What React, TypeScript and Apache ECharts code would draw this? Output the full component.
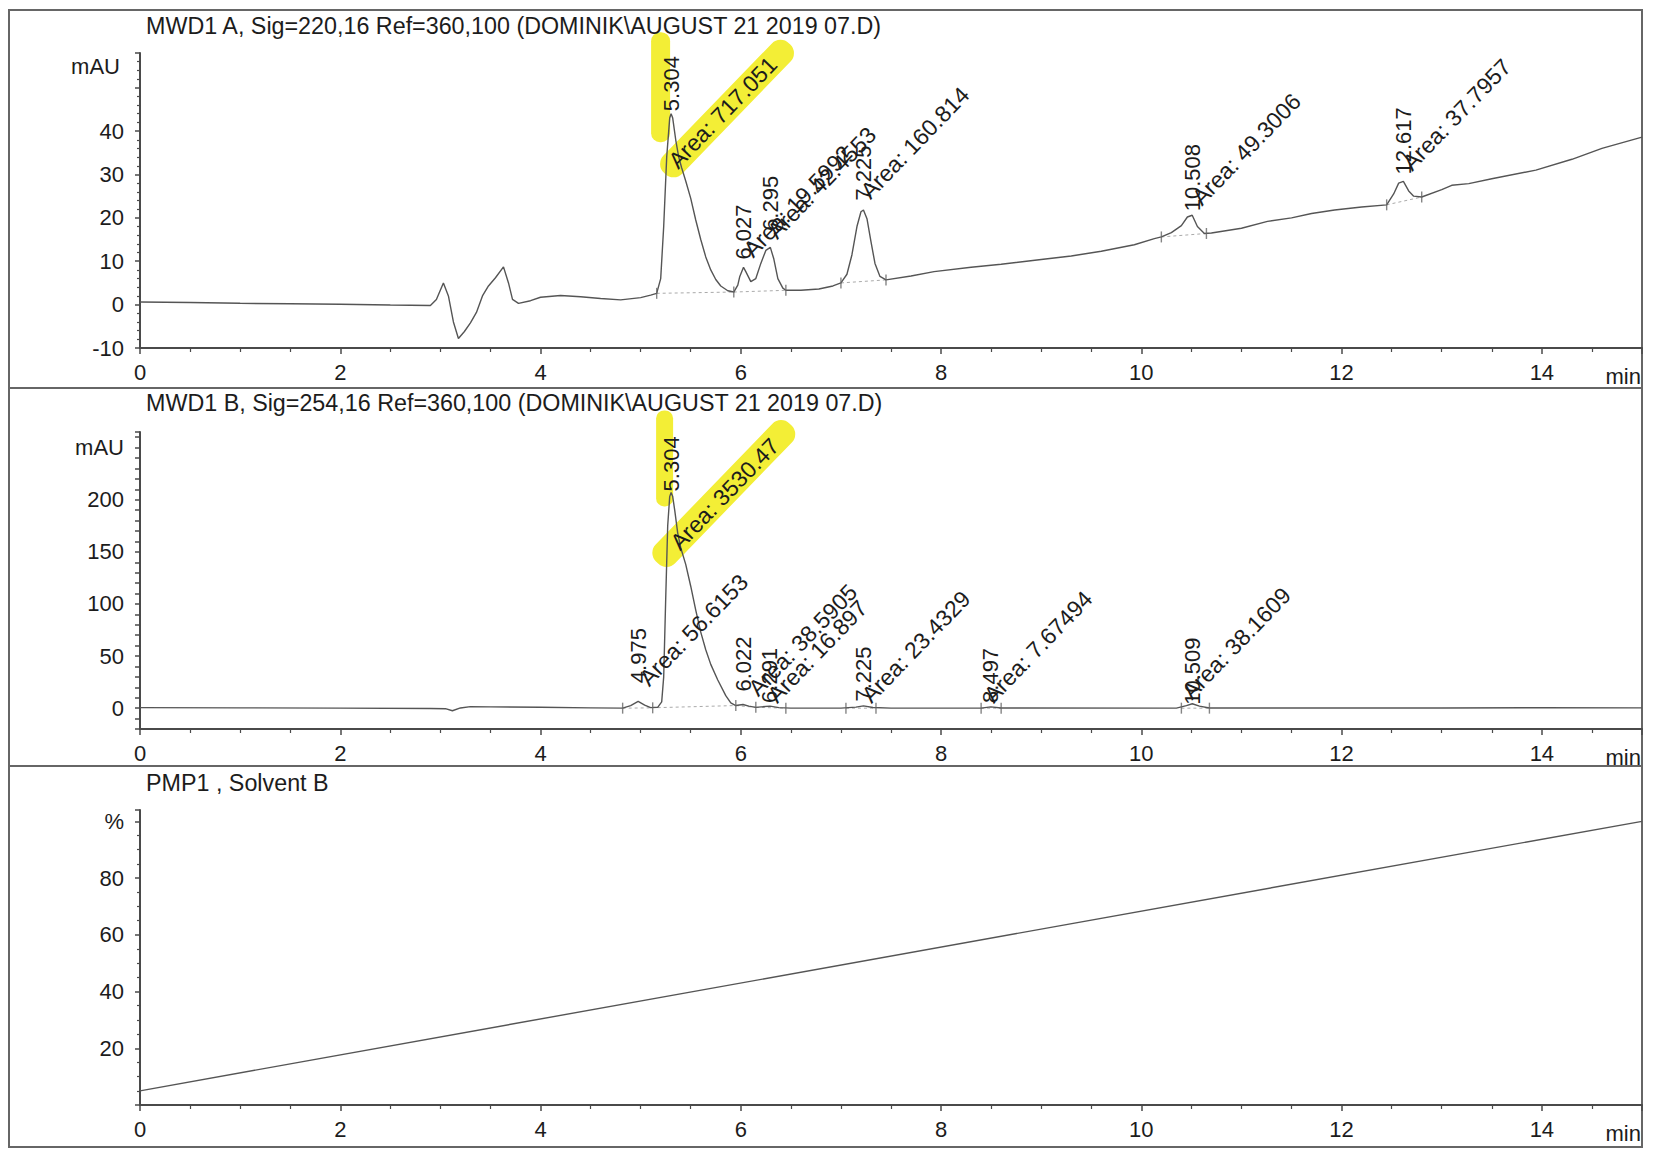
import React, { useEffect, useRef } from "react";
import * as echarts from "echarts";

// ---------- data ----------
const TIME_TICKS = [0, 2, 4, 6, 8, 10, 12, 14];

const TITLE_A = "MWD1 A, Sig=220,16 Ref=360,100 (DOMINIK\\AUGUST 21 2019 07.D)";
const TITLE_B = "MWD1 B, Sig=254,16 Ref=360,100 (DOMINIK\\AUGUST 21 2019 07.D)";
const TITLE_C = "PMP1 , Solvent B";

// Signal A (220 nm), [min, mAU]
const sigA: [number, number][] = [
  [0, 0.6], [0.5, 0.5], [1, 0.3], [1.5, 0.2], [2, 0.1], [2.5, -0.1], [2.9, -0.2],
  [2.96, 1.2], [3.03, 5.0], [3.08, 2.0], [3.13, -4.0], [3.18, -7.8], [3.24, -6.2],
  [3.3, -4.2], [3.36, -1.8], [3.42, 2.0], [3.48, 4.3], [3.55, 6.2], [3.63, 8.7],
  [3.68, 5.0], [3.72, 1.2], [3.78, 0.3], [3.9, 0.9], [4.0, 1.7], [4.2, 2.1],
  [4.4, 1.8], [4.6, 1.4], [4.8, 1.1], [5.0, 1.6], [5.1, 2.2], [5.16, 2.6],
  [5.2, 6], [5.23, 18], [5.26, 34], [5.29, 43], [5.304, 44], [5.32, 43],
  [5.35, 38], [5.38, 34], [5.41, 31.5], [5.45, 28.5], [5.5, 24.5], [5.55, 19.5],
  [5.6, 15], [5.65, 11], [5.7, 8], [5.75, 5.8], [5.8, 4.3], [5.87, 3.2],
  [5.93, 2.9], [5.97, 4.5], [5.99, 6.5], [6.027, 8.6], [6.05, 7.6], [6.1, 5.3],
  [6.15, 6.0], [6.2, 9.5], [6.25, 12.5], [6.295, 13.2], [6.33, 10.5], [6.37, 6.0],
  [6.42, 3.8], [6.45, 3.3], [6.6, 3.3], [6.78, 3.6], [6.92, 4.3], [7.0, 5.0],
  [7.06, 7.0], [7.11, 11.5], [7.16, 18.0], [7.2, 21.4], [7.225, 21.8], [7.26, 19.8],
  [7.3, 14.5], [7.34, 9.5], [7.39, 6.5], [7.45, 5.7], [7.7, 6.6], [7.93, 7.6],
  [8.3, 8.6], [8.6, 9.3], [9.0, 10.4], [9.3, 11.2], [9.6, 12.3], [9.93, 13.8],
  [10.13, 15.2], [10.2, 15.6], [10.3, 16.6], [10.4, 18.2], [10.46, 20.2],
  [10.508, 20.6], [10.56, 18.0], [10.63, 16.4], [10.7, 16.5], [11.0, 17.6],
  [11.26, 19.2], [11.5, 20.0], [11.7, 21.0], [11.93, 21.8], [12.2, 22.5],
  [12.45, 23.0], [12.52, 25.5], [12.57, 28.0], [12.617, 28.4], [12.67, 26.2],
  [12.72, 25.0], [12.8, 24.8], [13.0, 26.5], [13.1, 27.5], [13.27, 27.9],
  [13.5, 29.0], [13.94, 31.0], [14.3, 33.5], [14.6, 36.0], [15, 38.6],
];

// Signal B (254 nm), [min, mAU]
const sigB: [number, number][] = [
  [0, 0.5], [1, 0.3], [2, 0.0], [2.9, -0.3], [3.05, -0.5], [3.12, -2.5], [3.2, 0.2],
  [3.3, 1.5], [3.5, 1.2], [4.0, 0.8], [4.5, 0.3], [4.82, 0.0], [4.9, 2.5],
  [4.975, 6.5], [5.04, 3.0], [5.1, 0.5], [5.17, 0.8], [5.21, 6], [5.23, 30],
  [5.25, 105], [5.27, 175], [5.29, 203], [5.304, 207], [5.32, 203], [5.34, 190],
  [5.37, 168], [5.4, 154], [5.45, 138], [5.5, 117], [5.55, 94], [5.6, 73],
  [5.65, 56], [5.7, 42], [5.77, 27], [5.85, 12], [5.9, 5], [5.95, 2.5],
  [6.022, 3.5], [6.08, 2.0], [6.15, 0.8], [6.291, 2.0], [6.38, 0.5], [6.5, 0],
  [7.0, 0], [7.15, 1.0], [7.225, 2.2], [7.32, 0.6], [7.5, 0], [8.4, 0],
  [8.497, 1.2], [8.6, 0.1], [10.35, 0], [10.45, 2.5], [10.509, 4.2], [10.58, 2.0],
  [10.68, 0.2], [11.5, 0.1], [12, 0.3], [13, 0.2], [14, 0.5], [15, 0.3],
];

// Solvent B gradient, [min, %]
const solventB: [number, number][] = [[0, 5], [15, 100]];

// integration baselines
const baseSegA: [number, number][][] = [
  [[5.16, 2.6], [5.93, 2.9]], [[5.93, 2.9], [6.45, 3.3]], [[7.0, 5.0], [7.45, 5.7]],
  [[10.2, 15.6], [10.65, 16.4]], [[12.45, 23.0], [12.8, 24.8]],
];
const marksA: [number, number][] = [
  [5.16, 2.6], [5.93, 2.9], [6.45, 3.3], [7.0, 5.0], [7.45, 5.7],
  [10.2, 15.6], [10.65, 16.4], [12.45, 23.0], [12.8, 24.8],
];
const baseSegB: [number, number][][] = [
  [[4.82, 0], [5.12, 0.3]], [[5.17, 0.5], [5.95, 2.5]], [[5.95, 2.5], [6.15, 0.8]],
  [[6.15, 0.8], [6.45, 0]], [[7.05, 0], [7.35, 0]], [[8.4, 0], [8.6, 0]], [[10.4, 0], [10.68, 0]],
];
const marksB: [number, number][] = [
  [4.82, 0], [5.12, 0.3], [5.95, 2.5], [6.15, 0.8], [6.45, 0], [7.05, 0], [7.35, 0],
  [8.4, 0], [8.6, 0], [10.4, 0], [10.68, 0],
];

// peak annotations: retention label anchor (rt, rv), area label anchor (at, av)
type Peak = { rt: string; t: number; rv: number; area: string; at: number; av: number };
const peaksA: Peak[] = [
  { rt: "5.304", t: 5.304, rv: 44.6, area: "Area: 717.051", at: 5.4, av: 30.5 },
  { rt: "6.027", t: 6.027, rv: 10.4, area: "Area: 19.5992", at: 6.15, av: 10 },
  { rt: "6.295", t: 6.295, rv: 17, area: "Area: 42.4553", at: 6.39, av: 14.3 },
  { rt: "7.225", t: 7.225, rv: 24, area: "Area: 160.814", at: 7.32, av: 23.5 },
  { rt: "10.508", t: 10.508, rv: 21.5, area: "Area: 49.3006", at: 10.63, av: 22 },
  { rt: "12.617", t: 12.617, rv: 30, area: "Area: 37.7957", at: 12.73, av: 30 },
];
const peaksB: Peak[] = [
  { rt: "4.975", t: 4.975, rv: 24, area: "Area: 56.6153", at: 5.11, av: 17.6 },
  { rt: "5.304", t: 5.304, rv: 208, area: "Area: 3530.47", at: 5.42, av: 148 },
  { rt: "6.022", t: 6.022, rv: 16, area: "Area: 38.5905", at: 6.2, av: 8 },
  { rt: "6.291", t: 6.291, rv: 5, area: "Area: 16.897", at: 6.39, av: 1.5 },
  { rt: "7.225", t: 7.225, rv: 6.3, area: "Area: 23.4329", at: 7.33, av: 1.5 },
  { rt: "8.497", t: 8.497, rv: 5, area: "Area: 7.67494", at: 8.55, av: 1.5 },
  { rt: "10.509", t: 10.509, rv: 3.2, area: "Area: 38.1609", at: 10.53, av: 4.8 },
];

// ---------- styling ----------
const FONT = "'Liberation Sans', Arial, sans-serif";
const INK = "#1c1c1c";
const AXIS = "#4a4a4a";
const TRACE = "#555555";
const HILITE = "#f3ee36";
const AREA_ROT = (46 * Math.PI) / 180;

const grids = [
  { left: 140, right: 11, top: 53, height: 295 },
  { left: 140, right: 11, top: 432, height: 297 },
  { left: 140, right: 11, top: 810, height: 295 },
];

function xAxis(i: number) {
  return {
    type: "value",
    gridIndex: i,
    min: 0,
    max: 15,
    interval: 2,
    axisLine: { show: true, onZero: false, lineStyle: { color: AXIS, width: 2 } },
    axisTick: { show: true, length: 6, lineStyle: { color: AXIS, width: 1.5 } },
    minorTick: { show: true, splitNumber: 4, length: 4, lineStyle: { color: AXIS, width: 1.2 } },
    splitLine: { show: false },
    axisLabel: {
      fontSize: 22,
      color: INK,
      fontFamily: FONT,
      margin: 13,
      formatter: (v: number) => (TIME_TICKS.includes(v) ? String(v) : ""),
    },
  };
}

function yAxis(i: number, min: number, max: number, interval: number, minorSplit: number, fmt: (v: number) => string) {
  return {
    type: "value",
    gridIndex: i,
    min,
    max,
    interval,
    axisLine: { show: true, onZero: false, lineStyle: { color: AXIS, width: 2 } },
    axisTick: { show: true, length: 5, lineStyle: { color: AXIS, width: 1.5 } },
    minorTick: { show: minorSplit > 0, splitNumber: minorSplit || 5, length: 3, lineStyle: { color: AXIS, width: 1.2 } },
    splitLine: { show: false },
    axisLabel: { fontSize: 22, color: INK, fontFamily: FONT, margin: 16, formatter: fmt },
  };
}

export default function App() {
  const ref = useRef<HTMLDivElement>(null);

  useEffect(() => {
    if (!ref.current) return;
    const chart = echarts.init(ref.current, null, { renderer: "svg" });

    const series: any[] = [];
    const traceSeries = (gi: number, data: [number, number][]) => ({
      type: "line",
      xAxisIndex: gi,
      yAxisIndex: gi,
      data,
      showSymbol: false,
      symbol: "none",
      lineStyle: { color: TRACE, width: 1.4 },
      z: 3,
    });
    series.push(traceSeries(0, sigA), traceSeries(1, sigB), traceSeries(2, solventB));
    const segSeries = (gi: number, seg: [number, number][]) => ({
      type: "line",
      xAxisIndex: gi,
      yAxisIndex: gi,
      data: seg,
      symbol: "none",
      lineStyle: { color: "#aaaaaa", width: 1, type: [3, 3] },
      z: 2,
    });
    baseSegA.forEach((s) => series.push(segSeries(0, s)));
    baseSegB.forEach((s) => series.push(segSeries(1, s)));
    const markSeries = (gi: number, data: [number, number][]) => ({
      type: "scatter",
      xAxisIndex: gi,
      yAxisIndex: gi,
      data,
      symbol: "rect",
      symbolSize: [1.4, 11],
      itemStyle: { color: "#666" },
      z: 3,
    });
    series.push(markSeries(0, marksA), markSeries(1, marksB));

    chart.setOption({
      animation: false,
      backgroundColor: "#ffffff",
      grid: grids,
      xAxis: [xAxis(0), xAxis(1), xAxis(2)],
      yAxis: [
        yAxis(0, -10, 58, 10, 5, (v) => (v <= 40 && v % 10 === 0 ? String(v) : "")),
        yAxis(1, -20, 265, 10, 0, (v) =>
          v === 250 ? "mAU" : v >= 0 && v <= 200 && v % 50 === 0 ? String(v) : ""
        ),
        yAxis(2, 0, 104, 20, 4, (v) => (v === 100 ? "%" : v >= 20 && v <= 80 ? String(v) : "")),
      ],
      series,
    });

    const px = (g: number, x: number, y: number) =>
      chart.convertToPixel({ gridIndex: g } as any, [x, y]) as number[];

    const g: any[] = [];

    // outer frame and panel separators
    g.push({
      type: "rect",
      shape: { x: 9, y: 10, width: 1633, height: 1137 },
      style: { fill: "none", stroke: "#666", lineWidth: 2 },
      z: 0,
    });
    [388, 766].forEach((y) =>
      g.push({ type: "line", shape: { x1: 9, y1: y, x2: 1642, y2: y }, style: { stroke: "#666", lineWidth: 2 }, z: 0 })
    );

    // titles
    const titles = [TITLE_A, TITLE_B, TITLE_C];
    const titleY = [25.5, 402.5, 782.5];
    titles.forEach((t, i) =>
      g.push({
        type: "text",
        x: 146,
        y: titleY[i],
        style: { text: t, fontSize: 23.3, fontFamily: FONT, fill: INK, align: "left", verticalAlign: "middle" },
        z: 10,
      })
    );

    // mAU label for panel 1
    const m = px(0, 0, 55);
    g.push({
      type: "text",
      x: m[0] - 20,
      y: m[1],
      style: { text: "mAU", fontSize: 22, fontFamily: FONT, fill: INK, align: "right", verticalAlign: "middle" },
      z: 10,
    });

    // "min" unit labels
    for (let i = 0; i < 3; i++) {
      const p = px(i, 15, i === 0 ? -10 : i === 1 ? -20 : 0);
      g.push({
        type: "text",
        x: p[0] - 1,
        y: p[1] + 28,
        style: { text: "min", fontSize: 22, fontFamily: FONT, fill: INK, align: "right", verticalAlign: "middle" },
        z: 10,
      });
    }

    // yellow highlighter strokes on the main peaks
    const a1 = px(0, peaksA[0].t, peaksA[0].rv);
    g.push({ type: "rect", x: a1[0], y: a1[1], rotation: Math.PI / 2, shape: { x: -31, y: -20, width: 110, height: 19, r: 9 }, style: { fill: HILITE }, z: 1 });
    const a2 = px(0, peaksA[0].at, peaksA[0].av);
    g.push({ type: "rect", x: a2[0], y: a2[1], rotation: AREA_ROT, shape: { x: -12, y: -24, width: 180, height: 26, r: 12 }, style: { fill: HILITE }, z: 1 });
    const b1 = px(1, peaksB[1].t, peaksB[1].rv);
    g.push({ type: "rect", x: b1[0], y: b1[1], rotation: Math.PI / 2, shape: { x: -15, y: -15, width: 96, height: 17, r: 8 }, style: { fill: HILITE }, z: 1 });
    const b2 = px(1, peaksB[1].at, peaksB[1].av);
    g.push({ type: "rect", x: b2[0], y: b2[1], rotation: AREA_ROT, shape: { x: -24, y: -26, width: 192, height: 27, r: 12 }, style: { fill: HILITE }, z: 1 });

    // peak annotations
    const annotate = (gi: number, peaks: Peak[]) =>
      peaks.forEach((pk) => {
        const r = px(gi, pk.t, pk.rv);
        g.push({
          type: "text",
          x: r[0],
          y: r[1],
          rotation: Math.PI / 2,
          style: { text: pk.rt, fontSize: 22, fontFamily: FONT, fill: INK, align: "left", verticalAlign: "middle" },
          z: 10,
        });
        const a = px(gi, pk.at, pk.av);
        g.push({
          type: "text",
          x: a[0],
          y: a[1],
          rotation: AREA_ROT,
          style: { text: pk.area, fontSize: 23, fontFamily: FONT, fill: INK, align: "left", verticalAlign: "bottom" },
          z: 10,
        });
      });
    annotate(0, peaksA);
    annotate(1, peaksB);

    chart.setOption({ graphic: g });

    return () => chart.dispose();
  }, []);

  return (
    <div
      ref={ref}
      style={{ position: "fixed", left: 0, top: 0, width: 1653, height: 1158, background: "#fff" }}
    />
  );
}
